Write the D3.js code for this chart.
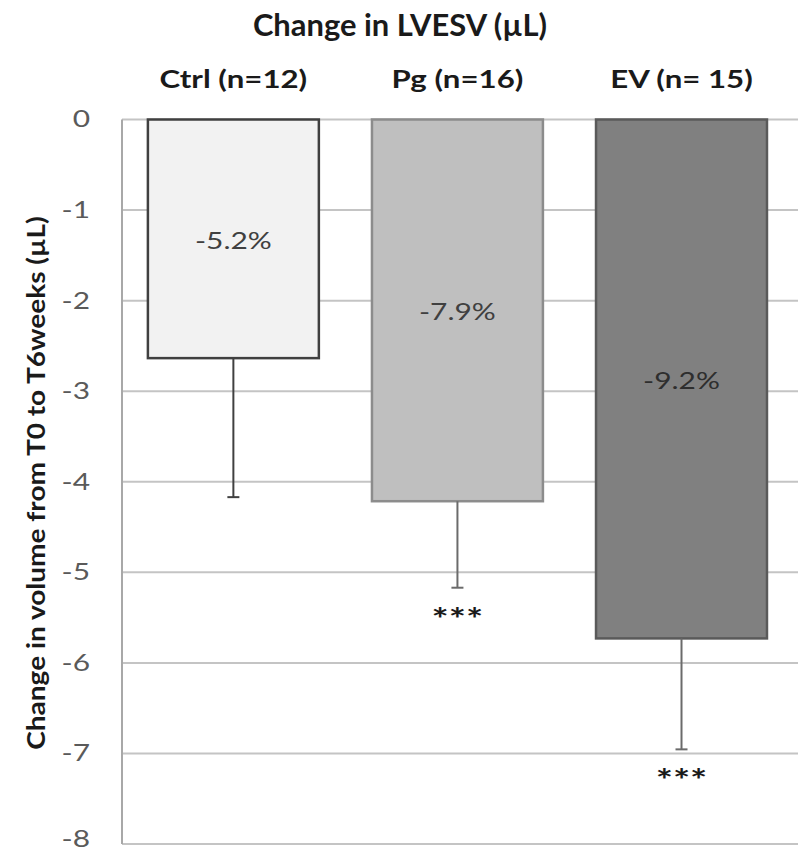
<!DOCTYPE html>
<html>
<head>
<meta charset="utf-8">
<script src="https://cdn.jsdelivr.net/npm/d3@7"></script>
<style>
  html, body { margin: 0; padding: 0; background: #fff; }
  svg { display: block; }
  text { font-family: Lato, "Open Sans", sans-serif; }
</style>
</head>
<body>
<svg id="chart" width="798" height="853"></svg>
<script>
// Group labels and sample sizes
const categories = ["Ctrl (n=12)", "Pg (n=16)", "EV (n= 15)"];
// Mean change in LVESV (µL) from T0 to T6weeks
const means = [-2.635, -4.215, -5.73];
// Error bar length (µL), drawn downward from the mean
const errors = [1.535, 0.955, 1.225];
// Percentage change shown inside each bar
const pctLabels = ["-5.2%", "-7.9%", "-9.2%"];
// Significance markers
const sigMarks = ["", "***", "***"];
// Y-axis ticks
const yTicks = [0, -1, -2, -3, -4, -5, -6, -7, -8];

const fills = ["#f2f2f2", "#bfbfbf", "#808080"];
const strokes = ["#404040", "#8c8c8c", "#5a5a5a"];

// Text in this chart is set in a horizontally widened face
const widen = 1.3;
function stretch(sel, factor) {
  sel.each(function () {
    const w = this.getComputedTextLength();
    d3.select(this)
      .attr("textLength", w * factor)
      .attr("lengthAdjust", "spacingAndGlyphs");
  });
}

const svg = d3.select("#chart");
const plotLeft = 122, plotRight = 798, plotTop = 119.5, plotBottom = 844;

const y = d3.scaleLinear().domain([0, -8]).range([plotTop, plotBottom]);
const x = d3.scaleBand()
  .domain(categories)
  .range([plotLeft, plotRight])
  .paddingInner(0.237)
  .paddingOuter(0.127)
  .align(0.455);

// Horizontal gridlines
svg.append("g")
  .selectAll("line")
  .data(yTicks)
  .join("line")
  .attr("x1", plotLeft)
  .attr("x2", plotRight)
  .attr("y1", d => y(d))
  .attr("y2", d => y(d))
  .attr("stroke", "#c4c4c4")
  .attr("stroke-width", 2);

// Vertical axis line
svg.append("line")
  .attr("x1", plotLeft).attr("x2", plotLeft)
  .attr("y1", y(0)).attr("y2", y(-8))
  .attr("stroke", "#a8a8a8")
  .attr("stroke-width", 2);

// Y-axis tick labels
const yAxis = d3.axisLeft(y).tickValues(yTicks).tickSize(0).tickPadding(32)
  .tickFormat(d => d === 0 ? "0" : "-" + Math.abs(d));
const yAxisG = svg.append("g")
  .attr("transform", `translate(${plotLeft},0)`)
  .call(yAxis);
yAxisG.select(".domain").remove();
yAxisG.selectAll("text")
  .attr("font-size", 23)
  .attr("fill", "#5a5a5a")
  .style("font-family", "Lato, sans-serif")
  .attr("dy", d => d === -8 ? "0.12em" : "0.32em")
  .call(stretch, widen);

// Bars
svg.append("g")
  .selectAll("rect")
  .data(categories)
  .join("rect")
  .attr("x", d => x(d))
  .attr("y", y(0))
  .attr("width", x.bandwidth())
  .attr("height", (d, i) => y(means[i]) - y(0))
  .attr("fill", (d, i) => fills[i])
  .attr("stroke", (d, i) => strokes[i])
  .attr("stroke-width", 2.5);

// Error bars
const eb = svg.append("g");
categories.forEach((c, i) => {
  const cx = x(c) + x.bandwidth() / 2;
  const col = i === 0 ? "#404040" : "#6b6b6b";
  eb.append("line")
    .attr("x1", cx).attr("x2", cx)
    .attr("y1", y(means[i])).attr("y2", y(means[i] - errors[i]))
    .attr("stroke", col)
    .attr("stroke-width", 2);
  eb.append("line")
    .attr("x1", cx - 6).attr("x2", cx + 6)
    .attr("y1", y(means[i] - errors[i])).attr("y2", y(means[i] - errors[i]))
    .attr("stroke", col)
    .attr("stroke-width", 2);
  if (sigMarks[i]) {
    eb.append("text")
      .attr("x", cx)
      .attr("y", y(means[i] - errors[i]) + 42)
      .attr("text-anchor", "middle")
      .attr("font-size", 30)
      .attr("font-weight", "bold")
      .attr("fill", "#1a1a1a")
      .text(sigMarks[i])
      .call(stretch, 1.35);
  }
});

// Percentage labels centred within each bar
svg.append("g")
  .selectAll("text")
  .data(categories)
  .join("text")
  .attr("x", d => x(d) + x.bandwidth() / 2)
  .attr("y", (d, i) => y(means[i] / 2) + 4)
  .attr("text-anchor", "middle")
  .attr("dominant-baseline", "middle")
  .attr("font-size", 23)
  .attr("fill", (d, i) => i === 2 ? "#2e2e2e" : "#404040")
  .text((d, i) => pctLabels[i])
  .call(stretch, widen);

// Category labels along the top
svg.append("g")
  .selectAll("text")
  .data(categories)
  .join("text")
  .attr("x", d => x(d) + x.bandwidth() / 2)
  .attr("y", 88)
  .attr("text-anchor", "middle")
  .attr("font-size", 24)
  .attr("font-weight", "bold")
  .attr("fill", "#1a1a1a")
  .text(d => d)
  .call(stretch, 1.3);

// Chart title
svg.append("text")
  .attr("x", 400)
  .attr("y", 36)
  .attr("text-anchor", "middle")
  .attr("font-size", 30)
  .attr("font-weight", "bold")
  .attr("fill", "#1a1a1a")
  .text("Change in LVESV (µL)")
  .call(stretch, 1.03);

// Y-axis title
svg.append("text")
  .attr("transform", "translate(45,483) rotate(-90)")
  .attr("text-anchor", "middle")
  .attr("font-size", 25)
  .attr("font-weight", "bold")
  .attr("fill", "#1a1a1a")
  .text("Change in volume from T0 to T6weeks (µL)")
  .call(stretch, 1.12);
</script>
</body>
</html>
